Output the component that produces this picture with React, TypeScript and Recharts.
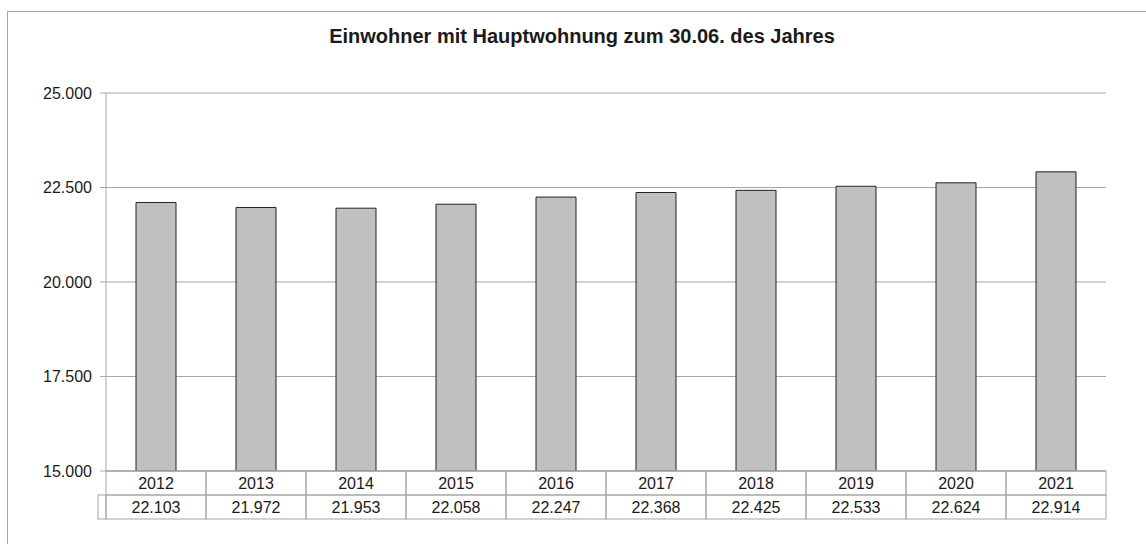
import { BarChart, Bar, XAxis, YAxis, CartesianGrid } from 'recharts'

// Einwohner mit Hauptwohnung, Stichtag 30.06.
const years = ['2012', '2013', '2014', '2015', '2016', '2017', '2018', '2019', '2020', '2021']
const residents = [22103, 21972, 21953, 22058, 22247, 22368, 22425, 22533, 22624, 22914]
const yTicks = [15000, 17500, 20000, 22500, 25000]

const data = years.map((year, i) => ({ year, residents: residents[i] }))

const W = 1146
const H = 544
const Y_AXIS_W = 106
const MARGIN_RIGHT = 40
const CELL_W = (W - Y_AXIS_W - MARGIN_RIGHT) / years.length
const ROW_H = 24
const GRID = '#a6a6a6'
const TEXT = '#1a1a1a'
const FONT = '"Liberation Sans", Arial, sans-serif'

// 22103 -> "22.103"
const de = (v: number) => String(Math.round(v)).replace(/\B(?=(\d{3})+(?!\d))/g, '.')

// x axis drawn as the Excel-style data table: year row + value row
function TableTick(props: any) {
  const { x, y, payload, index } = props
  const i = index ?? payload.index
  const left = x - CELL_W / 2
  return (
    <g>
      <rect x={left} y={y} width={CELL_W} height={ROW_H} fill="none" stroke={GRID} />
      <rect x={left} y={y + ROW_H} width={CELL_W} height={ROW_H} fill="none" stroke={GRID} />
      {i === 0 && (
        <rect x={left - 8} y={y + ROW_H} width={8} height={ROW_H} fill="none" stroke={GRID} />
      )}
      <text x={x} y={y + 18} textAnchor="middle" fontSize={16} fill={TEXT} fontFamily={FONT}>
        {payload.value}
      </text>
      <text x={x} y={y + 42} textAnchor="middle" fontSize={16} fill={TEXT} fontFamily={FONT}>
        {de(residents[i])}
      </text>
    </g>
  )
}

export default function App() {
  return (
    <div
      style={{
        position: 'absolute', left: 0, top: 0, width: W, height: H,
        overflow: 'hidden', background: '#fff', fontFamily: FONT,
      }}
    >
      {/* chart area border, runs off the right and bottom edge */}
      <div
        style={{
          position: 'absolute', left: 7, top: 11, width: W + 40, height: H + 40,
          border: `1px solid ${GRID}`, boxSizing: 'border-box',
        }}
      />
      <div
        style={{
          position: 'absolute', left: 582, top: 24, transform: 'translateX(-50%)',
          whiteSpace: 'nowrap', fontSize: 20, lineHeight: '24px', fontWeight: 'bold', color: TEXT,
        }}
      >
        Einwohner mit Hauptwohnung zum 30.06. des Jahres
      </div>
      <div style={{ position: 'absolute', left: 0, top: 0 }}>
        <BarChart
          width={W}
          height={H}
          data={data}
          margin={{ top: 93, right: MARGIN_RIGHT, bottom: 0, left: 0 }}
          barSize={40}
        >
          <CartesianGrid vertical={false} stroke={GRID} />
          <YAxis
            width={Y_AXIS_W}
            domain={[15000, 25000]}
            ticks={yTicks}
            allowDataOverflow
            tickFormatter={de}
            axisLine={{ stroke: GRID }}
            tickLine={{ stroke: GRID }}
            tickSize={6}
            tickMargin={8}
            tick={{ fill: TEXT, fontSize: 16, fontFamily: FONT }}
          />
          <XAxis
            dataKey="year"
            height={73}
            interval={0}
            axisLine={{ stroke: GRID }}
            tickLine={false}
            tickSize={0}
            tickMargin={0}
            tick={<TableTick />}
          />
          <Bar dataKey="residents" fill="#c0c0c0" stroke="#222" strokeWidth={1} isAnimationActive={false} />
        </BarChart>
      </div>
    </div>
  )
}
